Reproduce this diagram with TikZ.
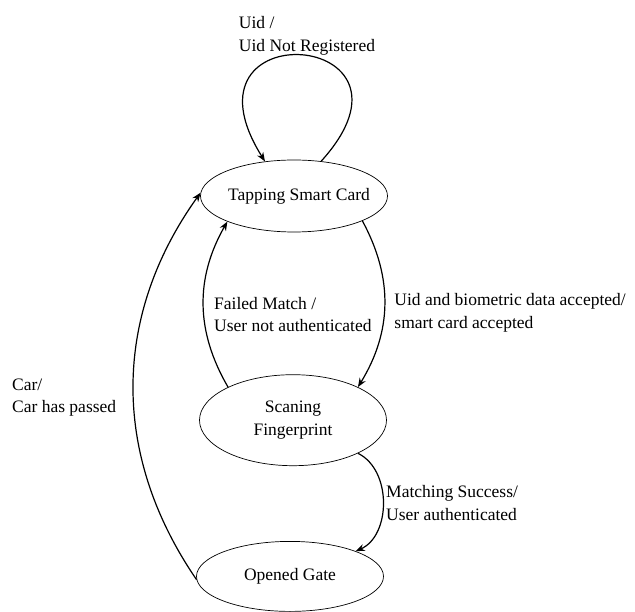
\documentclass[tikz,border=0pt]{standalone}
\usepackage{fontspec}
\setmainfont{Liberation Serif}
\usetikzlibrary{shapes,shapes.geometric,arrows,arrows.meta,positioning}
\tikzset{
    transedge/.style  = {black, ->, >={Stealth[length=9pt,width=7pt]}, line width=1.2pt},
    translabel/.style = {draw=none, rectangle, inner sep=0pt, align=left, minimum width=0pt, minimum height=0pt},
}

\begin{document}
\begin{tikzpicture}[x=1pt, y=1pt, font=\fontsize{17.5}{22.5}\selectfont]
        \useasboundingbox (0,0) rectangle (635,611);
        \tikzstyle{every node} = [align=center, draw, ellipse, line width=0.7pt, minimum width=187pt]
        \node[minimum height=72pt, inner xsep=-15pt](tap) at (294,415) {\hspace*{10pt}Tapping Smart Card};
        \node[below=142pt of tap, xshift=-1pt, minimum height=91pt](scan){Scaning\\Fingerprint};
        \node[below=75pt of scan, xshift=-3pt, minimum height=70pt](gate){Opened Gate};

        \draw[transedge] (tap.52) .. controls (440,581) and (170,601) .. node[translabel, pos=0.5, anchor=south, xshift=5pt] {Uid /\\Uid Not Registered} (tap.130);
        \path (tap.-20) edge[transedge, bend left=30] node[translabel, pos=0.55, anchor=west, xshift=10pt] {Uid and biometric data accepted/\\smart card accepted} (scan.27);
        \path (scan.153) edge[transedge, bend left=30] node[translabel, pos=0.44, anchor=west, xshift=10pt] {Failed Match /\\User not authenticated} (tap.201);
        \path (scan.-27) edge[transedge, bend left=65] node[translabel, pos=0.5, anchor=west, xshift=3pt] {Matching Success/\\User authenticated} (gate.21);
        \path (gate.182) edge[transedge, bend left=35] node[translabel, pos=0.47, anchor=east, xshift=-17pt] {Car/\\Car has passed} (tap.178);
    \end{tikzpicture}
\end{document}
